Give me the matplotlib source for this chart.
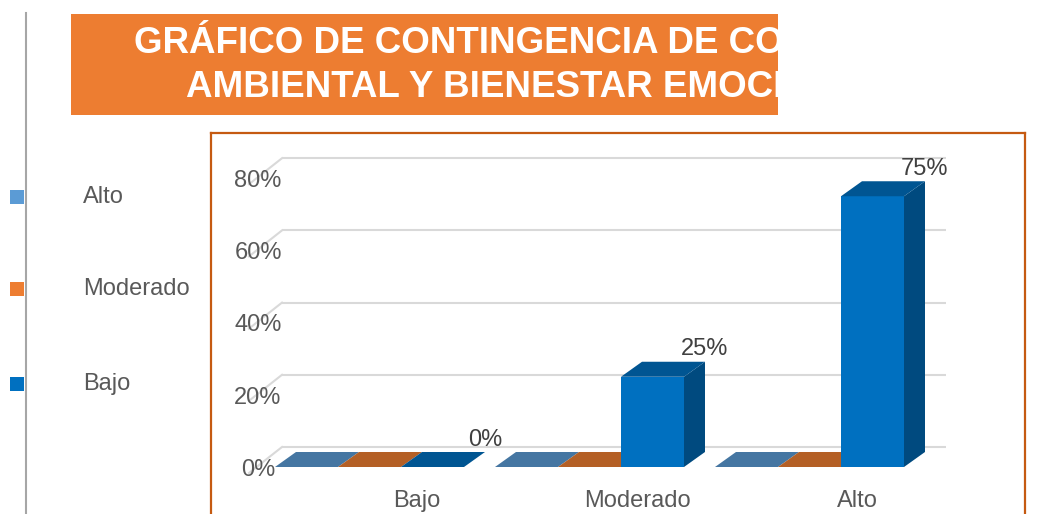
import matplotlib
matplotlib.use("Agg")
import matplotlib.pyplot as plt
from matplotlib.patches import Rectangle, Polygon
from matplotlib.lines import Line2D

plt.rcParams['font.family'] = ['Liberation Sans', 'DejaVu Sans']

# data
categories = ['Bajo', 'Moderado', 'Alto']
series_names = ['Alto', 'Moderado', 'Bajo']
series_values = {
    'Alto': [0, 0, 0],
    'Moderado': [0, 0, 0],
    'Bajo': [0, 25, 75],
}
labelled_series = 'Bajo'
y_ticks = [0, 20, 40, 60, 80]
title_lines = ['GRÁFICO DE CONTINGENCIA DE CONCIENCIA', 'AMBIENTAL Y BIENESTAR EMOCIONAL']

base_colors = {'Alto': (91, 155, 213), 'Moderado': (237, 125, 49), 'Bajo': (0, 112, 192)}


def shade(rgb, f):
    return tuple(min(1, c * f / 255) for c in rgb)


W, H = 1048, 514
fig = plt.figure(figsize=(W / 100, H / 100), dpi=100)

# plot area (pixel layout of the original)
ax = fig.add_axes([211 / W, 0, 814 / W, (H - 133) / H])
px_x = 220.0   # pixels per category
px_y = 3.61    # pixels per percent
ax.set_xlim((211 - 369.5) / px_x, (1025 - 369.5) / px_x)
ax.set_ylim((467 - 514) / px_y, (467 - 133) / px_y)
ax.set_xticks([])
ax.set_yticks([])
for s in ['top', 'left', 'right']:
    ax.spines[s].set_color('#C55A11')
    ax.spines[s].set_linewidth(1.6)
ax.spines['bottom'].set_visible(False)

# 3d depth in data units
DX, DY = 21 / px_x, 15 / px_y
WALL_DY = 20 / px_y
bw = 63 / px_x

# gridlines on back wall, with side wall diagonal
gx0, gx1 = (282 - 369.5) / px_x, (946 - 369.5) / px_x
for g in y_ticks:
    yb = g + WALL_DY
    ax.plot([gx0, gx1], [yb, yb], color='#D9D9D9', lw=1.5, zorder=1, solid_capstyle='butt')
    ax.plot([gx0 - 33 / px_x, gx0], [yb - 26 / px_y, yb], color='#D9D9D9', lw=1.5, zorder=1)
    ax.text((258 - 369.5) / px_x, g - 0.8, f'{g}%', ha='center', va='center',
            fontsize=17, color='#595959', zorder=5)

# bars
for i, cat in enumerate(categories):
    for j, name in enumerate(series_names):
        v = series_values[name][i]
        x0 = i - 1.5 * bw + j * bw
        base = base_colors[name]
        front = shade(base, 1.0)
        top = shade(base, 0.76)
        side = shade(base, 0.66)
        z = 2 + i * 0.1 + j * 0.01
        if v > 0:
            ax.add_patch(Rectangle((x0, 0), bw, v, facecolor=front, edgecolor='none', zorder=z))
            ax.add_patch(Polygon([(x0 + bw, 0), (x0 + bw + DX, DY), (x0 + bw + DX, v + DY), (x0 + bw, v)],
                                 closed=True, facecolor=side, edgecolor='none', zorder=z))
        ax.add_patch(Polygon([(x0, v), (x0 + bw, v), (x0 + bw + DX, v + DY), (x0 + DX, v + DY)],
                             closed=True, facecolor=top, edgecolor='none', zorder=z))
        if name == labelled_series:
            ax.annotate(f'{v}%', (x0 + bw + DX, v + DY), xytext=(0, 9), textcoords='offset points',
                        ha='center', va='center', fontsize=17, color='#404040', zorder=6)
    ax.text(i + 0.216, (467 - 501) / px_y, cat, ha='center', va='center',
            fontsize=17, color='#595959')

# legend on the left
legend_y = [197, 289, 384]
for name, yc in zip(series_names, legend_y):
    fig.add_artist(Rectangle((10 / W, 1 - (yc + 7) / H), 14 / W, 14 / H,
                             facecolor=shade(base_colors[name], 1.0), edgecolor='none'))
    fig.text(83 / W, 1 - yc / H, name, ha='left', va='center', fontsize=17, color='#595959')

# grey vertical rule
fig.add_artist(Line2D([25.5 / W, 25.5 / W], [0, 1 - 13 / H], color='#A6A6A6', lw=1.5))

# title banner (text runs past the box and is cut off)
banner = Rectangle((71 / W, 1 - 115 / H), 707 / W, 101 / H, transform=fig.transFigure,
                   facecolor='#ED7D31', edgecolor='none')
fig.add_artist(banner)
for line, xl, yb in zip(title_lines, [134, 186], [53, 97]):
    t = fig.text(xl / W, 1 - yb / H, line, ha='left', va='baseline', fontsize=26.5,
                 fontweight='bold', color='white')
    t.set_clip_path(banner)

fig.savefig('out.png', dpi=100)
